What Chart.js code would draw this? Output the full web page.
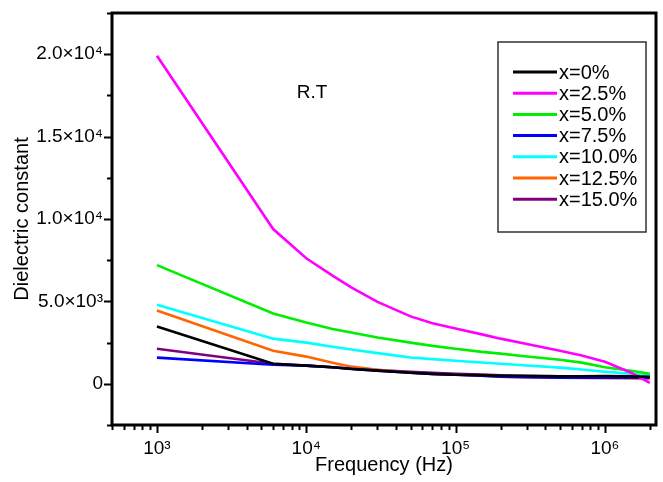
<!DOCTYPE html>
<html><head><meta charset="utf-8">
<script src="https://cdn.jsdelivr.net/npm/chart.js@4/dist/chart.umd.min.js"></script>
<style>html,body{margin:0;padding:0;background:#fff}</style>
</head><body>
<canvas id="c" width="663" height="482" style="display:block;width:663px;height:482px"></canvas>
<script>
// ---- data ----
const frequencies = [1e3, 6e3, 1e4, 1.5e4, 2e4, 3e4, 5e4, 7e4, 1e5, 1.5e5, 2e5, 3e5, 5e5, 7e5, 1e6, 1.5e6, 2e6];
const seriesNames = ['x=0%', 'x=2.5%', 'x=5.0%', 'x=7.5%', 'x=10.0%', 'x=12.5%', 'x=15.0%'];
const x0   = [3480, 1220, 1100, 1000, 900, 800, 670, 600, 550, 520, 490, 470, 450, 460, 470, 450, 430];
const x2_5 = [19900, 9390, 7620, 6560, 5850, 4970, 4090, 3680, 3350, 3000, 2740, 2420, 2010, 1720, 1340, 670, 60];
const x5   = [7200, 4270, 3720, 3330, 3110, 2810, 2500, 2300, 2130, 1935, 1830, 1655, 1460, 1285, 1000, 790, 610];
const x7_5 = [1590, 1160, 1100, 1000, 910, 800, 670, 600, 550, 490, 430, 400, 370, 370, 370, 370, 370];
const x10  = [4800, 2740, 2500, 2250, 2080, 1860, 1600, 1495, 1400, 1295, 1220, 1115, 980, 865, 730, 610, 490];
const x12_5= [4450, 2010, 1650, 1280, 1040, 850, 670, 600, 550, 490, 430, 400, 370, 360, 340, 320, 300];
const x15  = [2130, 1220, 1100, 1000, 910, 830, 730, 670, 610, 560, 520, 490, 460, 440, 430, 430, 430];
const yTickValues = [0, 5000, 10000, 15000, 20000];
const yTickLabels = ['0', '5.0×10³', '1.0×10⁴', '1.5×10⁴', '2.0×10⁴'];
const xTickValues = [1e3, 1e4, 1e5, 1e6];
const xTickLabels = ['10³', '10⁴', '10⁵', '10⁶'];
const xTitle = 'Frequency (Hz)';
const yTitle = 'Dielectric constant';
const noteText = 'R.T';

// ---- styles ----
const seriesValues = [x0, x2_5, x5, x7_5, x10, x12_5, x15];
const colors = ['#000000', '#ff00ff', '#00ee00', '#0000ff', '#00ffff', '#ff6600', '#800080'];
const FONT = '"Liberation Sans", Arial, sans-serif';

const datasets = seriesValues.map((vals, i) => ({
  label: seriesNames[i],
  data: vals.map((v, j) => ({x: frequencies[j], y: v})),
  borderColor: colors[i],
  backgroundColor: colors[i],
  borderWidth: 2.6,
  pointRadius: 0,
  tension: 0,
  fill: false
}));

const decorPlugin = {
  id: 'decor',
  afterDraw(chart) {
    const {ctx, chartArea: a, scales: {x, y}} = chart;
    ctx.save();
    ctx.strokeStyle = '#000';
    ctx.lineCap = 'butt';
    ctx.lineWidth = 2;
    for (let e = 2; e <= 6; e++) {
      for (let m = 1; m <= 9; m++) {
        const v = m * Math.pow(10, e);
        if (v < x.min || v > x.max) continue;
        const px = Math.round(x.getPixelForValue(v)) + 0.5;
        const len = m === 1 ? 8 : 5;
        ctx.beginPath(); ctx.moveTo(px, a.bottom); ctx.lineTo(px, a.bottom + len); ctx.stroke();
      }
    }
    for (let v = Math.ceil(y.min / 2500) * 2500; v <= y.max; v += 2500) {
      const py = Math.round(y.getPixelForValue(v)) + 0.5;
      const len = (v % 5000 === 0) ? 8 : 5;
      ctx.beginPath(); ctx.moveTo(a.left - len, py); ctx.lineTo(a.left, py); ctx.stroke();
    }
    ctx.lineWidth = 3;
    ctx.strokeRect(a.left, a.top, a.right - a.left, a.bottom - a.top);
    ctx.fillStyle = '#000';
    ctx.font = '19px ' + FONT;
    ctx.textAlign = 'center';
    ctx.textBaseline = 'middle';
    ctx.fillText(noteText, a.left + 200, a.top + 80);
    const lx = a.right - 158, ly = a.top + 29, lw = 148, lh = 190;
    ctx.lineWidth = 1.5;
    ctx.strokeStyle = '#333';
    ctx.strokeRect(lx, ly, lw, lh);
    ctx.font = '20px ' + FONT;
    ctx.textAlign = 'left';
    chart.data.datasets.forEach((ds, i) => {
      const cy = ly + 30 + i * 21.2;
      ctx.strokeStyle = ds.borderColor;
      ctx.lineWidth = 3;
      ctx.beginPath(); ctx.moveTo(lx + 15, cy); ctx.lineTo(lx + 59, cy); ctx.stroke();
      ctx.fillStyle = '#000';
      ctx.fillText(ds.label, lx + 61, cy + 1);
    });
    ctx.restore();
  }
};

new Chart(document.getElementById('c'), {
  type: 'line',
  data: {datasets},
  plugins: [decorPlugin],
  options: {
    responsive: false,
    devicePixelRatio: 1,
    animation: false,
    layout: {padding: {top: 13, right: 7, left: 0, bottom: 0}},
    plugins: {legend: {display: false}, tooltip: {enabled: false}},
    scales: {
      x: {
        type: 'logarithmic',
        min: 500, max: 2.2e6,
        border: {display: false},
        grid: {display: false, drawTicks: false},
        afterBuildTicks: s => { s.ticks = xTickValues.map(v => ({value: v, major: true})); },
        afterFit: s => { s.height = 57; s.paddingLeft = 0; s.paddingRight = 0; },
        ticks: {
          autoSkip: false, maxRotation: 0, padding: 12, color: '#000',
          font: {family: FONT, size: 19},
          callback: (v, i) => xTickLabels[i]
        },
        title: {display: true, text: xTitle, color: '#000', font: {family: FONT, size: 20}, padding: {top: 0, bottom: 5}}
      },
      y: {
        type: 'linear',
        min: -2500, max: 22500,
        border: {display: false},
        grid: {display: false, drawTicks: false},
        afterBuildTicks: s => { s.ticks = yTickValues.map(v => ({value: v})); },
        afterFit: s => { s.width = 112; s.paddingTop = 0; s.paddingBottom = 0; },
        ticks: {
          autoSkip: false, padding: 9, color: '#000',
          font: {family: FONT, size: 19},
          callback: (v, i) => yTickLabels[i]
        },
        title: {display: true, text: yTitle, color: '#000', font: {family: FONT, size: 20}, padding: {top: 10, bottom: 0}}
      }
    }
  }
});
</script>
</body></html>
